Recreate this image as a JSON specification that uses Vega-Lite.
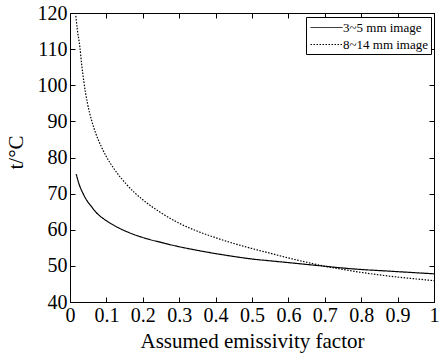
{
  "$schema": "https://vega.github.io/schema/vega-lite/v6.json",
  "width": 364,
  "height": 289,
  "autosize": {"type": "none"},
  "padding": {"left": 70, "top": 13, "right": 7, "bottom": 56},
  "background": "white",
  "config": {
    "font": "Times New Roman",
    "view": {"stroke": "black", "strokeWidth": 1},
    "axis": {
      "domain": false,
      "grid": false,
      "tickColor": "black",
      "tickSize": -5,
      "labelColor": "black",
      "labelFont": "Times New Roman",
      "labelFontSize": 20,
      "labelFlush": false,
      "labelOverlap": false,
      "titleFont": "Times New Roman",
      "titleFontSize": 21,
      "titleFontWeight": "normal",
      "titleColor": "black"
    },
    "legend": {"labelFont": "Times New Roman"}
  },
  "data": {
    "values": [
      {"e": 0.017, "t": 75.4, "s": "3~5 mm image"},
      {"e": 0.025, "t": 72.6, "s": "3~5 mm image"},
      {"e": 0.036, "t": 70.0, "s": "3~5 mm image"},
      {"e": 0.047, "t": 68.0, "s": "3~5 mm image"},
      {"e": 0.059, "t": 66.4, "s": "3~5 mm image"},
      {"e": 0.07, "t": 65.0, "s": "3~5 mm image"},
      {"e": 0.086, "t": 63.5, "s": "3~5 mm image"},
      {"e": 0.1, "t": 62.5, "s": "3~5 mm image"},
      {"e": 0.132, "t": 60.6, "s": "3~5 mm image"},
      {"e": 0.16, "t": 59.3, "s": "3~5 mm image"},
      {"e": 0.205, "t": 57.7, "s": "3~5 mm image"},
      {"e": 0.25, "t": 56.5, "s": "3~5 mm image"},
      {"e": 0.3, "t": 55.3, "s": "3~5 mm image"},
      {"e": 0.35, "t": 54.3, "s": "3~5 mm image"},
      {"e": 0.4, "t": 53.4, "s": "3~5 mm image"},
      {"e": 0.45, "t": 52.6, "s": "3~5 mm image"},
      {"e": 0.5, "t": 51.9, "s": "3~5 mm image"},
      {"e": 0.55, "t": 51.4, "s": "3~5 mm image"},
      {"e": 0.6, "t": 50.9, "s": "3~5 mm image"},
      {"e": 0.65, "t": 50.4, "s": "3~5 mm image"},
      {"e": 0.7, "t": 49.9, "s": "3~5 mm image"},
      {"e": 0.75, "t": 49.4, "s": "3~5 mm image"},
      {"e": 0.8, "t": 49.0, "s": "3~5 mm image"},
      {"e": 0.85, "t": 48.7, "s": "3~5 mm image"},
      {"e": 0.9, "t": 48.4, "s": "3~5 mm image"},
      {"e": 0.95, "t": 48.1, "s": "3~5 mm image"},
      {"e": 1.0, "t": 47.8, "s": "3~5 mm image"},
      {"e": 0.016, "t": 119.2, "s": "8~14 mm image"},
      {"e": 0.02, "t": 115.5, "s": "8~14 mm image"},
      {"e": 0.027, "t": 110.7, "s": "8~14 mm image"},
      {"e": 0.032, "t": 105.8, "s": "8~14 mm image"},
      {"e": 0.038, "t": 101.0, "s": "8~14 mm image"},
      {"e": 0.048, "t": 95.0, "s": "8~14 mm image"},
      {"e": 0.059, "t": 90.4, "s": "8~14 mm image"},
      {"e": 0.07, "t": 86.9, "s": "8~14 mm image"},
      {"e": 0.086, "t": 83.0, "s": "8~14 mm image"},
      {"e": 0.1, "t": 80.2, "s": "8~14 mm image"},
      {"e": 0.12, "t": 77.0, "s": "8~14 mm image"},
      {"e": 0.155, "t": 72.6, "s": "8~14 mm image"},
      {"e": 0.178, "t": 70.2, "s": "8~14 mm image"},
      {"e": 0.2, "t": 68.3, "s": "8~14 mm image"},
      {"e": 0.25, "t": 64.7, "s": "8~14 mm image"},
      {"e": 0.3, "t": 61.8, "s": "8~14 mm image"},
      {"e": 0.35, "t": 59.6, "s": "8~14 mm image"},
      {"e": 0.4, "t": 57.8, "s": "8~14 mm image"},
      {"e": 0.45, "t": 56.2, "s": "8~14 mm image"},
      {"e": 0.5, "t": 54.8, "s": "8~14 mm image"},
      {"e": 0.55, "t": 53.5, "s": "8~14 mm image"},
      {"e": 0.6, "t": 52.2, "s": "8~14 mm image"},
      {"e": 0.65, "t": 51.0, "s": "8~14 mm image"},
      {"e": 0.7, "t": 49.9, "s": "8~14 mm image"},
      {"e": 0.75, "t": 49.0, "s": "8~14 mm image"},
      {"e": 0.8, "t": 48.2, "s": "8~14 mm image"},
      {"e": 0.85, "t": 47.5, "s": "8~14 mm image"},
      {"e": 0.9, "t": 46.9, "s": "8~14 mm image"},
      {"e": 0.95, "t": 46.4, "s": "8~14 mm image"},
      {"e": 1.0, "t": 45.9, "s": "8~14 mm image"}
    ]
  },
  "resolve": {"axis": {"x": "independent", "y": "independent"}},
  "layer": [
    {
      "mark": {"type": "line", "color": "black", "strokeWidth": 1.2, "interpolate": "monotone"},
      "encoding": {
        "x": {
          "field": "e", "type": "quantitative",
          "scale": {"domain": [0, 1], "nice": false, "zero": false},
          "axis": {"orient": "bottom", "values": [0, 0.1, 0.2, 0.3, 0.4, 0.5, 0.6, 0.7, 0.8, 0.9, 1], "format": "~g", "labelPadding": 8, "title": "Assumed emissivity factor", "titlePadding": 5}
        },
        "y": {
          "field": "t", "type": "quantitative",
          "scale": {"domain": [40, 120], "nice": false, "zero": false},
          "axis": {"orient": "left", "values": [40, 50, 60, 70, 80, 90, 100, 110, 120], "labelPadding": 8, "title": "t/°C", "titleX": -54, "titleY": 139, "titleAngle": -90, "titleAlign": "center", "titleBaseline": "middle"}
        },
        "strokeDash": {
          "field": "s", "type": "nominal",
          "scale": {"domain": ["3~5 mm image", "8~14 mm image"], "range": [[1, 0], [1.5, 1.5]]},
          "legend": {
            "orient": "none", "legendX": 236, "legendY": 4, "title": null,
            "strokeColor": "black", "fillColor": "white", "padding": 2,
            "labelFont": "Times New Roman", "labelFontSize": 13, "labelColor": "black",
            "symbolType": "M-2,0H2", "symbolSize": 256, "symbolOffset": 10, "symbolStrokeColor": "black", "symbolStrokeWidth": 1,
            "rowPadding": 1, "labelOffset": 8
          }
        }
      }
    },
    {
      "mark": {"type": "line", "opacity": 0},
      "encoding": {
        "x": {
          "field": "e", "type": "quantitative",
          "axis": {"orient": "top", "values": [0, 0.1, 0.2, 0.3, 0.4, 0.5, 0.6, 0.7, 0.8, 0.9, 1], "labels": false, "title": null}
        },
        "y": {
          "field": "t", "type": "quantitative",
          "axis": {"orient": "right", "values": [40, 50, 60, 70, 80, 90, 100, 110, 120], "labels": false, "title": null}
        },
        "detail": {"field": "s", "type": "nominal"}
      }
    }
  ]
}
